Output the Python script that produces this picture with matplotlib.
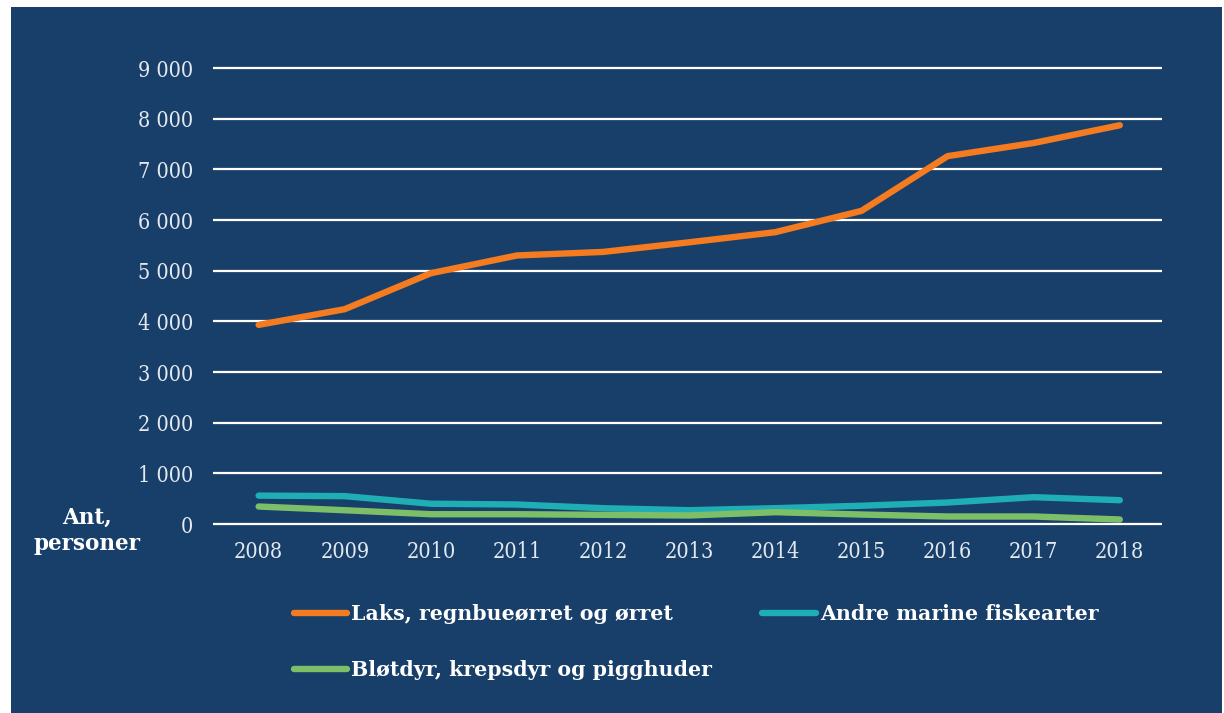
import matplotlib
matplotlib.use('Agg')
import matplotlib.pyplot as plt
from matplotlib.patches import Rectangle

# data
years = ['2008', '2009', '2010', '2011', '2012', '2013', '2014', '2015', '2016', '2017', '2018']
laks = [3930, 4240, 4950, 5300, 5370, 5560, 5760, 6180, 7260, 7520, 7870]
andre = [560, 550, 400, 385, 312, 272, 312, 360, 424, 529, 470]
blotdyr = [345, 272, 193, 193, 181, 168, 233, 187, 148, 148, 89]
yticks = [0, 1000, 2000, 3000, 4000, 5000, 6000, 7000, 8000, 9000]
ytick_labels = ['0', '1 000', '2 000', '3 000', '4 000', '5 000', '6 000', '7 000', '8 000', '9 000']

navy = '#173f6a'
light = '#e4e9f0'
serif = ['DejaVu Serif']

W, H = 1224, 713
fig = plt.figure(figsize=(W / 100, H / 100), dpi=100)
fig.patch.set_facecolor('white')
fig.patches.append(Rectangle((11 / W, 0), 1 - 13 / W, 1 - 7 / H, transform=fig.transFigure,
                             facecolor=navy, edgecolor='none', zorder=0))

# 9000 sits at y=68 px, 0 at y=524 px; small margin above and below so the gridlines are whole
ppu = (524 - 68) / 9000
ylo, yhi = -100, 9100
bottom_px = 524 + (0 - ylo) * ppu
top_px = 524 - yhi * ppu
ax = fig.add_axes([213 / W, 1 - bottom_px / H, (1162 - 213) / W, (bottom_px - top_px) / H])
ax.set_zorder(2)
ax.set_facecolor('none')
x = range(len(years))

ax.set_yticks(yticks)
ax.set_ylim(ylo, yhi)
ax.set_xlim(-0.53, 10.49)
ax.grid(axis='y', color='white', linewidth=1.6, zorder=1)
ax.set_axisbelow(True)
for s in ax.spines.values():
    s.set_visible(False)

l1, = ax.plot(x, laks, color='#f47b20', linewidth=4.6, solid_capstyle='round', label='Laks, regnbueørret og ørret', zorder=3, clip_on=False)
l2, = ax.plot(x, andre, color='#20aeb5', linewidth=4.6, solid_capstyle='round', label='Andre marine fiskearter', zorder=3, clip_on=False)
l3, = ax.plot(x, blotdyr, color='#7dbf68', linewidth=4.6, solid_capstyle='round', label='Bløtdyr, krepsdyr og pigghuder', zorder=4, clip_on=False)

ax.set_xticks(list(x))
ax.set_xticklabels(years)
ax.set_yticklabels(ytick_labels)
ax.tick_params(axis='both', length=0, colors=light, labelsize=15.5)
ax.tick_params(axis='y', pad=14.5)
ax.tick_params(axis='x', pad=8.5)
for lab in ax.get_xticklabels() + ax.get_yticklabels():
    lab.set_family(serif)
    lab.set_fontstretch('condensed')
    lab.set_fontweight('light')

fig.text(87 / W, 1 - 531 / H, 'Ant,\npersoner', ha='center', va='center', color='white',
         fontsize=15.5, fontweight='bold', family=serif, linespacing=1.25)

leg = fig.legend([l1, l3, l2], [l1.get_label(), l3.get_label(), l2.get_label()],
                 ncol=2, loc='upper left', bbox_to_anchor=(275 / W, 1 - 586 / H),
                 frameon=False, handlelength=2.6, handletextpad=0.2, columnspacing=2.45,
                 labelspacing=1.75, prop={'family': serif, 'weight': 'bold', 'size': 14.8})
for t in leg.get_texts():
    t.set_color('white')

fig.savefig('out.png', dpi=100)
